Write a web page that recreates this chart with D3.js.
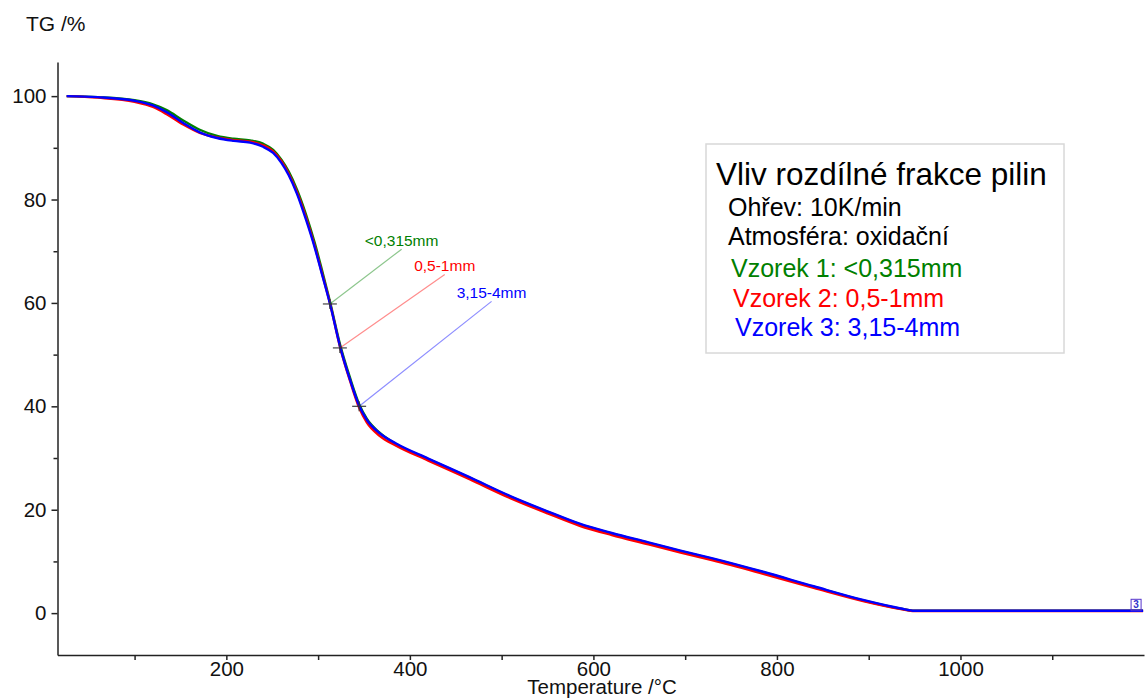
<!DOCTYPE html>
<html>
<head>
<meta charset="utf-8">
<script src="https://cdn.jsdelivr.net/npm/d3@7"></script>
<style>
  body { margin: 0; background: #fff; }
  text { font-family: "Liberation Sans", Arial, sans-serif; }
</style>
</head>
<body>
<div id="chart"></div>
<script>
// temperature grid (°C) shared by the three TG curves
const temps = [26, 60, 100, 120, 135, 153, 171, 190, 208, 226, 240, 251, 260, 268, 277, 287, 296, 304, 313, 324, 335, 345, 353, 367, 385, 420, 465, 510, 550, 585, 620, 660, 695, 730, 785, 840, 895, 935, 950, 1000, 1100, 1199]

const tgGreen = [100, 99.8, 99.2, 98.4, 97.3, 95.3, 93.5, 92.3, 91.75, 91.45, 90.8, 89.6, 87.7, 85.4, 81.9, 77.0, 71.8, 66.5, 60.2, 51.9, 45.4, 40.3, 37.6, 34.9, 32.7, 29.8, 26.2, 22.5, 19.6, 17.2, 15.4, 13.6, 12.0, 10.5, 7.9, 5.1, 2.4, 0.85, 0.45, 0.45, 0.45, 0.45]
const tgRed   = [100, 99.7, 98.9, 97.9, 96.5, 94.5, 92.9, 92.0, 91.5, 91.2, 90.5, 89.3, 87.4, 85.0, 81.4, 76.4, 71.2, 65.9, 59.9, 51.4, 44.8, 39.6, 36.9, 34.3, 32.4, 29.5, 25.9, 22.2, 19.3, 16.9, 15.1, 13.3, 11.7, 10.2, 7.6, 4.9, 2.3, 0.8, 0.4, 0.4, 0.4, 0.4]
const tgBlue  = [100, 99.8, 99.1, 98.2, 96.9, 94.8, 93.0, 91.9, 91.35, 91.0, 90.2, 89.0, 87.1, 84.7, 81.1, 76.0, 70.9, 65.7, 59.8, 51.5, 45.0, 40.0, 37.4, 34.8, 32.8, 29.9, 26.3, 22.6, 19.7, 17.3, 15.5, 13.7, 12.1, 10.6, 8.0, 5.2, 2.5, 0.9, 0.45, 0.45, 0.45, 0.45]

const seriesLabels = ["<0,315mm", "0,5-1mm", "3,15-4mm"]
const seriesColors = ["#008000", "#ff0000", "#0000ff"]

// marked points on each curve and where their leader lines end
const markT  = [312.8, 323.7, 344.7]
const markTG = [59.8, 51.3, 40.0]
const leadT  = [391, 438, 489]
const leadTG = [70.4, 65.5, 60.3]

const xMajor = [200, 400, 600, 800, 1000]
const xMinor = [100, 300, 500, 700, 900, 1100]
const yMajor = [0, 20, 40, 60, 80, 100]
const yMinor = [10, 30, 50, 70, 90]

const legendLines = [
  { t: "Ohřev: 10K/min", c: "#000" },
  { t: "Atmosféra: oxidační", c: "#000" },
  { t: "Vzorek 1: <0,315mm", c: seriesColors[0] },
  { t: "Vzorek 2: 0,5-1mm", c: seriesColors[1] },
  { t: "Vzorek 3: 3,15-4mm", c: seriesColors[2] }
]

const W = 1147, H = 699

const svg = d3.select('#chart')
  .append('svg')
  .attr('width', W)
  .attr('height', H)

const x = d3.scaleLinear().domain([16, 1200]).range([57.5, 1144])
const y = d3.scaleLinear().domain([-8.1, 106.6]).range([655, 62])

// axes
svg.append('g').attr('transform', 'translate(0,655)')
  .call(d3.axisBottom(x).tickValues(xMajor).tickSize(5).tickSizeOuter(0).tickPadding(1.5).tickFormat(d3.format('d')))
svg.append('g').attr('transform', 'translate(0,655)')
  .call(d3.axisBottom(x).tickValues(xMinor).tickSize(5).tickSizeOuter(0).tickFormat(''))
  .select('.domain').remove()

svg.append('g').attr('transform', 'translate(57.5,0)')
  .call(d3.axisLeft(y).tickValues(yMajor).tickSize(6).tickSizeOuter(0).tickPadding(5))
svg.append('g').attr('transform', 'translate(57.5,0)')
  .call(d3.axisLeft(y).tickValues(yMinor).tickSize(4).tickSizeOuter(0).tickFormat(''))
  .select('.domain').remove()

svg.selectAll('.domain, .tick line').attr('stroke', '#222').attr('stroke-width', 1.5)
svg.selectAll('.tick text').attr('font-size', 20.5).attr('fill', '#111')

svg.append('text').attr('x', 26).attr('y', 31).attr('font-size', 21).attr('fill', '#111').text('TG /%')
svg.append('text').attr('x', 602).attr('y', 694).attr('text-anchor', 'middle')
  .attr('font-size', 20.5).attr('fill', '#111').text('Temperature /°C')

// curves
const line = d3.line()
  .x(function(d) { return x(d[0]) })
  .y(function(d) { return y(d[1]) })
  .curve(d3.curveMonotoneX)

const allTG = [tgGreen, tgRed, tgBlue]
allTG.forEach(function(tg, i) {
  svg.append('path')
    .datum(temps.map(function(t, j) { return [t, tg[j]] }))
    .attr('d', line)
    .attr('fill', 'none')
    .attr('stroke', seriesColors[i])
    .attr('stroke-width', 2.4)
    .attr('stroke-linejoin', 'round')
})

// leader lines, crosses and labels
seriesLabels.forEach(function(lab, i) {
  const mx = x(markT[i]), my = y(markTG[i])
  const lx = x(leadT[i]), ly = y(leadTG[i])
  svg.append('line').attr('x1', mx).attr('y1', my).attr('x2', lx).attr('y2', ly)
    .attr('stroke', seriesColors[i]).attr('stroke-opacity', 0.45).attr('stroke-width', 1.2)
  svg.append('line').attr('x1', mx - 7).attr('x2', mx + 7).attr('y1', my).attr('y2', my)
    .attr('stroke', '#333').attr('stroke-opacity', 0.85).attr('stroke-width', 1.3)
  svg.append('line').attr('x1', mx).attr('x2', mx).attr('y1', my - 5).attr('y2', my + 5)
    .attr('stroke', '#333').attr('stroke-opacity', 0.85).attr('stroke-width', 1.3)
  svg.append('text').attr('x', lx).attr('y', ly - 3).attr('text-anchor', 'middle')
    .attr('font-size', 15.5).attr('fill', seriesColors[i]).text(lab)
})

// end marker [3]
const ex = x(temps[temps.length - 1]) - 7, ey = y(tgBlue[tgBlue.length - 1])
svg.append('rect').attr('x', ex - 5).attr('y', ey - 11.5).attr('width', 10).attr('height', 11.5)
  .attr('fill', 'none').attr('stroke', '#5533cc').attr('stroke-width', 1)
svg.append('text').attr('x', ex).attr('y', ey - 2.5).attr('text-anchor', 'middle')
  .attr('font-size', 10).attr('font-weight', 'bold').attr('fill', '#3333cc').text('3')

// legend box
svg.append('rect').attr('x', 706).attr('y', 144).attr('width', 358).attr('height', 209)
  .attr('fill', '#fff').attr('stroke', '#d8d8d8').attr('stroke-width', 1.5)
svg.append('text').attr('x', 716).attr('y', 185).attr('font-size', 31.5).attr('fill', '#000')
  .text('Vliv rozdílné frakce pilin')
const legendX = [728, 728, 731, 733, 735]
const legendY = [216, 245, 277, 307, 336]
svg.selectAll('.leg')
  .data(legendLines)
  .enter()
  .append('text')
  .attr('class', 'leg')
  .attr('x', function(d, i) { return legendX[i] })
  .attr('y', function(d, i) { return legendY[i] })
  .attr('font-size', 25)
  .attr('fill', function(d) { return d.c })
  .text(function(d) { return d.t })
</script>
</body>
</html>
